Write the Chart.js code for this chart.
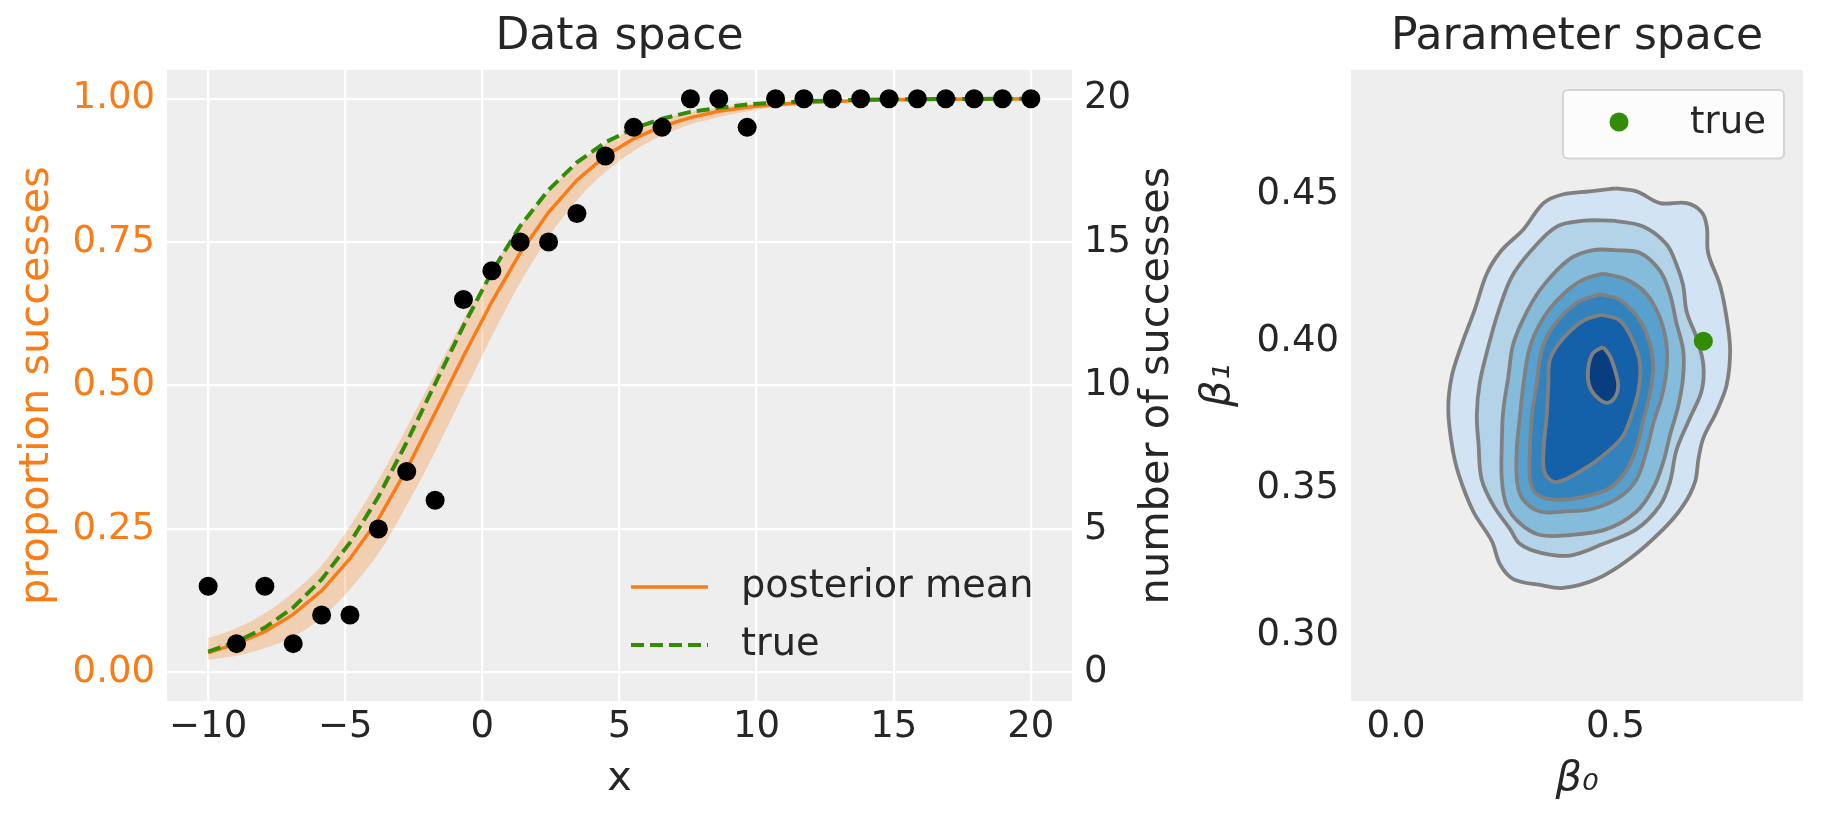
<!DOCTYPE html>
<html>
<head>
<meta charset="utf-8">
<script src="https://cdn.jsdelivr.net/npm/chart.js@4.4.1/dist/chart.umd.min.js"></script>
<style>
  html, body { margin: 0; padding: 0; background: #fff; }
  #wrap { position: relative; width: 1823px; height: 823px; overflow: hidden; }
  canvas { position: absolute; top: 0; }
  #dataChart { left: 0; }
  #paramChart { left: 1180px; }
</style>
</head>
<body>
<div id="wrap">
  <canvas id="dataChart" width="1239" height="823"></canvas>
  <canvas id="paramChart" width="643" height="823"></canvas>
</div>
<script>
// Data space
const xVals = [-10, -8.966, -7.931, -6.897, -5.862, -4.828, -3.793, -2.759, -1.724, -0.690,
  0.345, 1.379, 2.414, 3.448, 4.483, 5.517, 6.552, 7.586, 8.621, 9.655,
  10.690, 11.724, 12.759, 13.793, 14.828, 15.862, 16.897, 17.931, 18.966, 20];
const successes = [3, 1, 3, 1, 2, 2, 5, 7, 6, 13, 14, 15, 15, 16, 18, 19, 19, 20, 20, 19,
  20, 20, 20, 20, 20, 20, 20, 20, 20, 20];
const postMean = [0.034, 0.050, 0.071, 0.101, 0.142, 0.198, 0.267, 0.354, 0.452, 0.551,
  0.646, 0.731, 0.802, 0.858, 0.900, 0.930, 0.952, 0.967, 0.978, 0.985,
  0.990, 0.993, 0.995, 0.997, 0.998, 0.9986, 0.9991, 0.9994, 0.9996, 0.9997];
const hdiLow = [0.022, 0.029, 0.042, 0.062, 0.095, 0.145, 0.207, 0.291, 0.384, 0.485,
  0.586, 0.679, 0.759, 0.823, 0.872, 0.909, 0.936, 0.955, 0.968, 0.978,
  0.985, 0.989, 0.9925, 0.9948, 0.9964, 0.9975, 0.9982, 0.9988, 0.9992, 0.9994];
const hdiHigh = [0.060, 0.077, 0.103, 0.139, 0.186, 0.255, 0.335, 0.427, 0.521, 0.615,
  0.702, 0.778, 0.839, 0.887, 0.922, 0.947, 0.965, 0.977, 0.985, 0.990,
  0.993, 0.996, 0.997, 0.998, 0.9988, 0.9992, 0.9995, 0.9997, 0.9998, 0.9999];
const trueCurve = [0.036, 0.053, 0.078, 0.113, 0.162, 0.226, 0.306, 0.401, 0.503, 0.604,
  0.698, 0.778, 0.841, 0.889, 0.924, 0.948, 0.965, 0.977, 0.984, 0.990,
  0.993, 0.9955, 0.997, 0.998, 0.9987, 0.9991, 0.9994, 0.9996, 0.9997, 0.9998];

const xTicks = [-10, -5, 0, 5, 10, 15, 20];
const xTickLabels = ['\u221210', '\u22125', '0', '5', '10', '15', '20'];
const propTicks = [0, 0.25, 0.5, 0.75, 1];
const propTickLabels = ['0.00', '0.25', '0.50', '0.75', '1.00'];
const countTicks = [0, 5, 10, 15, 20];
const countTickLabels = ['0', '5', '10', '15', '20'];

// Parameter space: KDE contour outlines (beta0, beta1), outer to inner
const contour1 = [[0.499, 0.452], [0.548, 0.451], [0.601, 0.447], [0.662, 0.447], [0.696, 0.444],
  [0.708, 0.439], [0.711, 0.430], [0.738, 0.419], [0.753, 0.408], [0.761, 0.397], [0.753, 0.385],
  [0.730, 0.376], [0.700, 0.367], [0.689, 0.360], [0.681, 0.352], [0.654, 0.344], [0.609, 0.336],
  [0.533, 0.326], [0.457, 0.319], [0.381, 0.316], [0.328, 0.317], [0.267, 0.319], [0.237, 0.324],
  [0.218, 0.332], [0.176, 0.342], [0.142, 0.355], [0.127, 0.365], [0.119, 0.377], [0.127, 0.388],
  [0.150, 0.399], [0.180, 0.411], [0.207, 0.423], [0.241, 0.431], [0.290, 0.438], [0.336, 0.447],
  [0.381, 0.450], [0.442, 0.451]];
const contour2 = [[0.495, 0.441], [0.563, 0.439], [0.616, 0.433], [0.639, 0.426], [0.654, 0.419],
  [0.662, 0.410], [0.685, 0.401], [0.700, 0.392], [0.696, 0.383], [0.670, 0.374], [0.639, 0.363],
  [0.624, 0.352], [0.601, 0.344], [0.548, 0.336], [0.472, 0.331], [0.396, 0.327], [0.328, 0.328],
  [0.282, 0.331], [0.260, 0.336], [0.222, 0.344], [0.195, 0.353], [0.188, 0.365], [0.184, 0.375],
  [0.191, 0.386], [0.210, 0.398], [0.233, 0.410], [0.264, 0.422], [0.309, 0.431], [0.366, 0.439],
  [0.427, 0.441]];
const contour3 = [[0.499, 0.431], [0.556, 0.430], [0.601, 0.424], [0.624, 0.416], [0.639, 0.406],
  [0.654, 0.397], [0.654, 0.388], [0.643, 0.378], [0.624, 0.368], [0.609, 0.359], [0.586, 0.350],
  [0.548, 0.342], [0.480, 0.336], [0.396, 0.334], [0.328, 0.334], [0.282, 0.338], [0.252, 0.344],
  [0.241, 0.353], [0.241, 0.365], [0.244, 0.376], [0.256, 0.388], [0.267, 0.399], [0.298, 0.410],
  [0.336, 0.419], [0.396, 0.428], [0.449, 0.431]];
const contour4 = [[0.472, 0.423], [0.525, 0.421], [0.571, 0.416], [0.601, 0.408], [0.616, 0.399],
  [0.616, 0.390], [0.605, 0.381], [0.586, 0.372], [0.571, 0.363], [0.548, 0.353], [0.510, 0.347],
  [0.449, 0.343], [0.381, 0.342], [0.328, 0.342], [0.290, 0.346], [0.276, 0.352], [0.275, 0.363],
  [0.282, 0.374], [0.290, 0.385], [0.305, 0.398], [0.336, 0.408], [0.381, 0.416], [0.427, 0.421]];
const contour5 = [[0.465, 0.416], [0.510, 0.414], [0.556, 0.407], [0.578, 0.399], [0.586, 0.391],
  [0.578, 0.382], [0.563, 0.373], [0.548, 0.364], [0.525, 0.356], [0.487, 0.350], [0.427, 0.347],
  [0.366, 0.346], [0.320, 0.348], [0.305, 0.353], [0.305, 0.363], [0.309, 0.374], [0.320, 0.385],
  [0.332, 0.397], [0.358, 0.405], [0.411, 0.413]];
const contour6 = [[0.468, 0.409], [0.510, 0.407], [0.540, 0.400], [0.556, 0.392], [0.552, 0.383],
  [0.537, 0.375], [0.518, 0.368], [0.487, 0.363], [0.434, 0.357], [0.366, 0.352], [0.339, 0.355],
  [0.336, 0.363], [0.343, 0.374], [0.347, 0.385], [0.351, 0.394], [0.381, 0.401], [0.427, 0.407]];
const contour7 = [[0.472, 0.398], [0.487, 0.395], [0.499, 0.390], [0.506, 0.385], [0.499, 0.381],
  [0.480, 0.379], [0.457, 0.381], [0.440, 0.385], [0.438, 0.391], [0.449, 0.396]];
const contourFills = ['#d2e3f3', '#b3d3e8', '#85bcdc', '#58a1cf', '#3282be', '#1561a9', '#083e80'];
const trueParams = [[0.7, 0.4]];

const b0Ticks = [0, 0.5];
const b0TickLabels = ['0.0', '0.5'];
const b1Ticks = [0.30, 0.35, 0.40, 0.45];
const b1TickLabels = ['0.30', '0.35', '0.40', '0.45'];

const TEXT = '#262626';
const ORANGE = '#fa7c17';
const GREEN = '#328c06';

Chart.defaults.font.family = "'DejaVu Sans', sans-serif";
Chart.defaults.color = TEXT;

// grey panel behind the plot
const panelBg = {
  id: 'panelBg',
  beforeDraw(chart) {
    const {ctx, chartArea: a} = chart;
    ctx.save();
    ctx.fillStyle = '#eeeeee';
    ctx.fillRect(a.left, a.top, a.right - a.left, a.bottom - a.top);
    ctx.restore();
  }
};

// right-hand axis title, read bottom to top like the left one
const sideTitle = {
  id: 'sideTitle',
  afterDraw(chart, args, opts) {
    if (!opts.text) return;
    const {ctx, chartArea} = chart;
    const sc = chart.scales[opts.scale];
    ctx.save();
    ctx.translate(sc.left + opts.offset, (chartArea.top + chartArea.bottom) / 2);
    ctx.rotate(-Math.PI / 2);
    ctx.font = opts.font;
    ctx.fillStyle = opts.color;
    ctx.textAlign = 'center';
    ctx.textBaseline = 'middle';
    ctx.fillText(opts.text, 0, 0);
    ctx.restore();
  }
};

// legend drawn inside the plot area
const innerLegend = {
  id: 'innerLegend',
  afterDraw(chart, args, opts) {
    if (!opts.items) return;
    const {ctx} = chart;
    ctx.save();
    if (opts.box) {
      const b = opts.box, r = 5;
      ctx.beginPath();
      ctx.moveTo(b.x0 + r, b.y0);
      ctx.lineTo(b.x1 - r, b.y0);
      ctx.arcTo(b.x1, b.y0, b.x1, b.y0 + r, r);
      ctx.lineTo(b.x1, b.y1 - r);
      ctx.arcTo(b.x1, b.y1, b.x1 - r, b.y1, r);
      ctx.lineTo(b.x0 + r, b.y1);
      ctx.arcTo(b.x0, b.y1, b.x0, b.y1 - r, r);
      ctx.lineTo(b.x0, b.y0 + r);
      ctx.arcTo(b.x0, b.y0, b.x0 + r, b.y0, r);
      ctx.closePath();
      ctx.fillStyle = 'rgba(255,255,255,0.8)';
      ctx.fill();
      ctx.strokeStyle = '#d4d4d4';
      ctx.lineWidth = 2;
      ctx.stroke();
    }
    ctx.font = opts.font;
    ctx.textBaseline = 'middle';
    ctx.textAlign = 'left';
    opts.items.forEach(it => {
      const ds = chart.data.datasets[it.dataset];
      if (it.kind === 'dot') {
        ctx.beginPath();
        ctx.fillStyle = ds.backgroundColor;
        ctx.arc(opts.handleX0, it.y, ds.pointRadius, 0, Math.PI * 2);
        ctx.fill();
      } else {
        ctx.beginPath();
        ctx.strokeStyle = ds.borderColor;
        ctx.lineWidth = ds.borderWidth;
        ctx.setLineDash(ds.borderDash || []);
        ctx.moveTo(opts.handleX0, it.y);
        ctx.lineTo(opts.handleX1, it.y);
        ctx.stroke();
        ctx.setLineDash([]);
      }
      ctx.fillStyle = TEXT;
      ctx.fillText(ds.label, opts.textX, it.ty);
    });
    ctx.restore();
  }
};

const pts = ys => xVals.map((x, i) => ({x: x, y: ys[i]}));
const setTicks = vals => scale => { scale.ticks = vals.map(v => ({value: v})); };

new Chart(document.getElementById('dataChart'), {
  type: 'line',
  data: {
    datasets: [
      { label: 'hdi low', data: pts(hdiLow), borderWidth: 0, pointRadius: 0, fill: false,
        cubicInterpolationMode: 'monotone', yAxisID: 'y', order: 6 },
      { label: 'hdi high', data: pts(hdiHigh), borderWidth: 0, pointRadius: 0, fill: '-1',
        backgroundColor: 'rgba(250,124,23,0.27)', cubicInterpolationMode: 'monotone',
        yAxisID: 'y', order: 5 },
      { label: 'posterior mean', data: pts(postMean), borderColor: ORANGE, borderWidth: 3.5,
        pointRadius: 0, fill: false, tension: 0, yAxisID: 'y', order: 3 },
      { label: 'true', data: pts(trueCurve), borderColor: GREEN, borderWidth: 4,
        borderDash: [13, 6], pointRadius: 0, fill: false, tension: 0, yAxisID: 'y', order: 2 },
      { label: 'observed', data: pts(successes), showLine: false, pointRadius: 9.5,
        pointHoverRadius: 9.5, backgroundColor: '#000', borderWidth: 0, yAxisID: 'y2', order: 1 }
    ]
  },
  options: {
    responsive: false,
    animation: false,
    devicePixelRatio: 1,
    events: [],
    layout: { padding: 0 },
    scales: {
      x: {
        type: 'linear', position: 'bottom', min: -11.5, max: 21.5,
        afterBuildTicks: setTicks(xTicks),
        afterFit: s => { s.height = 122; },
        ticks: { autoSkip: false, maxRotation: 0, padding: 4, font: { size: 37 }, color: TEXT,
          callback: (v, i) => xTickLabels[i] },
        grid: { color: '#ffffff', lineWidth: 2.3, drawTicks: false },
        border: { display: false },
        title: { display: true, text: 'x', font: { size: 41.5 }, color: TEXT,
          padding: { top: 0, bottom: 19 } }
      },
      y: {
        type: 'linear', position: 'left', min: -0.05, max: 1.05,
        afterBuildTicks: setTicks(propTicks),
        afterFit: s => { s.width = 167; },
        ticks: { autoSkip: false, padding: 12, font: { size: 37 }, color: ORANGE,
          callback: (v, i) => propTickLabels[i] },
        grid: { color: '#ffffff', lineWidth: 2.3, drawTicks: false },
        border: { display: false },
        title: { display: true, text: 'proportion successes', font: { size: 41.5 }, color: ORANGE,
          padding: { top: 12.6, bottom: 0 } }
      },
      y2: {
        type: 'linear', position: 'right', min: -1, max: 21,
        afterBuildTicks: setTicks(countTicks),
        afterFit: s => { s.width = 167; },
        ticks: { autoSkip: false, padding: 12, font: { size: 37 }, color: TEXT,
          callback: (v, i) => countTickLabels[i] },
        grid: { display: false, drawTicks: false },
        border: { display: false }
      }
    },
    plugins: {
      legend: { display: false },
      tooltip: { enabled: false },
      title: { display: true, text: 'Data space', fullSize: false, font: { size: 44, weight: 'normal' },
        color: TEXT, padding: { top: 11.6, bottom: 5.6 } },
      sideTitle: { text: 'number of successes', scale: 'y2', offset: 85.5,
        font: '41.5px "DejaVu Sans"', color: TEXT },
      innerLegend: { font: '38.3px "DejaVu Sans"', handleX0: 631, handleX1: 708, textX: 741,
        items: [ { dataset: 2, y: 587, ty: 587 }, { dataset: 3, y: 645, ty: 645 } ] }
    }
  },
  plugins: [panelBg, sideTitle, innerLegend]
});

const contourSets = [contour1, contour2, contour3, contour4, contour5, contour6, contour7]
  .map((c, k) => ({
    label: 'level ' + (k + 1),
    data: c.concat([c[0]]).map(p => ({x: p[0], y: p[1]})),
    borderColor: '#808080', borderWidth: 3.8, backgroundColor: contourFills[k],
    fill: 'shape', tension: 0.35, pointRadius: 0, order: 10 - k
  }));

new Chart(document.getElementById('paramChart'), {
  type: 'line',
  data: {
    datasets: contourSets.concat([
      { label: 'true', data: trueParams.map(p => ({x: p[0], y: p[1]})), showLine: false,
        pointRadius: 9.5, pointHoverRadius: 9.5, backgroundColor: GREEN, borderWidth: 0, order: 1 }
    ])
  },
  options: {
    responsive: false,
    animation: false,
    devicePixelRatio: 1,
    events: [],
    layout: { padding: { left: 0, right: 20, top: 0, bottom: 0 } },
    scales: {
      x: {
        type: 'linear', position: 'bottom', min: -0.1025, max: 0.927,
        afterBuildTicks: setTicks(b0Ticks),
        afterFit: s => { s.height = 122; },
        ticks: { autoSkip: false, maxRotation: 0, padding: 4, font: { size: 37 }, color: TEXT,
          callback: (v, i) => b0TickLabels[i] },
        grid: { display: false, drawTicks: false },
        border: { display: false },
        title: { display: true, text: '\u03b2\u2080', font: { size: 41.5, style: 'italic' }, color: TEXT,
          padding: { top: 0, bottom: 19 } }
      },
      y: {
        type: 'linear', position: 'left', min: 0.2775, max: 0.4923,
        afterBuildTicks: setTicks(b1Ticks),
        afterFit: s => { s.width = 171; },
        ticks: { autoSkip: false, padding: 12, font: { size: 37 }, color: TEXT,
          callback: (v, i) => b1TickLabels[i] },
        grid: { display: false, drawTicks: false },
        border: { display: false },
        title: { display: true, text: '\u03b2\u2081', font: { size: 41.5, style: 'italic' }, color: TEXT,
          padding: { top: 13.4, bottom: 0 } }
      }
    },
    plugins: {
      legend: { display: false },
      tooltip: { enabled: false },
      title: { display: true, text: 'Parameter space', fullSize: false, font: { size: 44, weight: 'normal' },
        color: TEXT, padding: { top: 11.6, bottom: 5.6 } },
      innerLegend: { font: '37px "DejaVu Sans"', box: { x0: 383, y0: 90, x1: 604, y1: 158.5 },
        handleX0: 439, textX: 510,
        items: [ { dataset: 7, kind: 'dot', y: 122, ty: 123 } ] }
    }
  },
  plugins: [panelBg, innerLegend]
});
</script>
</body>
</html>
